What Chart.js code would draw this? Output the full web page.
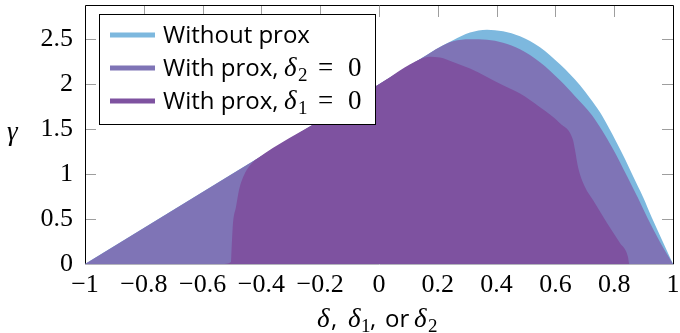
<!DOCTYPE html>
<html><head><meta charset="utf-8">
<script src="https://cdn.jsdelivr.net/npm/chart.js@4.4.0/dist/chart.umd.min.js"></script>
<style>html,body{margin:0;padding:0;background:#fff}#wrap{width:680px;height:333px;position:relative}</style>
</head><body><div id="wrap"><canvas id="c" width="680" height="333"></canvas></div>
<script>
// ---- data ----
const xTickValues = [-1, -0.8, -0.6, -0.4, -0.2, 0, 0.2, 0.4, 0.6, 0.8, 1];
const yTickValues = [0, 0.5, 1, 1.5, 2, 2.5];
const seriesNames = ['Without prox', 'With prox, δ2 = 0', 'With prox, δ1 = 0'];

const noProxDelta = [-1, -0.5, 0, 0.15, 0.2075, 0.2517, 0.3095, 0.3673, 0.4218, 0.4796, 0.5476, 0.6156, 0.6497, 0.6837, 0.7177, 0.7517, 0.7789, 0.8095, 0.8367, 0.8639, 0.898, 0.9286, 0.9626, 1];
const noProxGamma = [0, 1, 2, 2.3, 2.415, 2.49, 2.575, 2.607, 2.589, 2.533, 2.411, 2.222, 2.111, 1.989, 1.844, 1.689, 1.533, 1.344, 1.167, 0.978, 0.744, 0.511, 0.267, 0];

const prox2Delta = [-1, -0.5, 0, 0.15, 0.2075, 0.2517, 0.3095, 0.3673, 0.4218, 0.4796, 0.5476, 0.6156, 0.6667, 0.7245, 0.7585, 0.7925, 0.8197, 0.8469, 0.881, 0.915, 0.9558, 1];
const prox2Gamma = [0, 1, 2, 2.3, 2.415, 2.478, 2.5, 2.494, 2.461, 2.389, 2.244, 2.044, 1.867, 1.656, 1.489, 1.3, 1.133, 0.956, 0.733, 0.5, 0.244, 0];

const prox1Delta = [-0.534, -0.5034, -0.5, -0.4966, -0.4864, -0.4762, -0.4558, -0.4354, -0.415, -0.2, 0, 0.1395, 0.1735, 0.2075, 0.2517, 0.3095, 0.3673, 0.4218, 0.4796, 0.5476, 0.6156, 0.6599, 0.6667, 0.6769, 0.7007, 0.7279, 0.7755, 0.8197, 0.8469, 0.8503, 0.852];
const prox1Gamma = [0, 0.022, 0.267, 0.456, 0.633, 0.822, 1.011, 1.111, 1.17, 1.6, 2, 2.279, 2.306, 2.297, 2.248, 2.174, 2.081, 1.989, 1.897, 1.744, 1.567, 1.378, 1.267, 1.078, 0.856, 0.711, 0.456, 0.233, 0.078, 0.011, 0];

const colors = ['rgb(125,184,222)', 'rgb(127,116,182)', 'rgb(126,82,160)'];

const toPts = (xs, ys) => xs.map((x, i) => ({x: x, y: ys[i]}));
const fmt = v => { const r = Math.round(v * 10) / 10; if (r === 0) return '0'; const s = String(Math.abs(r)); return (r < 0 ? '\u2212' : '') + s; };

const SERIF = "'Liberation Serif', 'DejaVu Serif', serif";
const SANS = "'Open Sans', 'Liberation Sans', sans-serif";

function drawSegs(ctx, y, segs) {
  for (const s of segs) { ctx.font = s.f; ctx.fillText(s.t, s.x, y + (s.dy || 0)); }
}

const decorPlugin = {
  id: 'decor',
  beforeDatasetsDraw(chart) {
    const {ctx, chartArea: a, scales: {x, y}} = chart;
    ctx.save();
    ctx.strokeStyle = '#9e9e9e'; ctx.lineWidth = 1;
    ctx.beginPath();
    for (const v of xTickValues) {
      const px = Math.round(x.getPixelForValue(v)) + 0.5;
      ctx.moveTo(px, a.top); ctx.lineTo(px, a.top + 11);
      ctx.moveTo(px, a.bottom); ctx.lineTo(px, a.bottom - 11);
    }
    for (const v of yTickValues) {
      const py = Math.round(y.getPixelForValue(v)) + 0.5;
      ctx.moveTo(a.left, py); ctx.lineTo(a.left + 11, py);
      ctx.moveTo(a.right, py); ctx.lineTo(a.right - 11, py);
    }
    ctx.stroke();
    ctx.strokeStyle = '#000';
    ctx.beginPath();
    ctx.moveTo(a.left + 0.5, a.bottom + 0.5); ctx.lineTo(a.left + 0.5, a.top - 0.5);
    ctx.lineTo(a.right + 0.5, a.top - 0.5); ctx.lineTo(a.right + 0.5, a.bottom + 0.5);
    ctx.stroke();
    ctx.restore();
  },
  afterDatasetsDraw(chart) {
    const {ctx, chartArea: a} = chart;
    ctx.save();
    ctx.strokeStyle = '#b4b4bc'; ctx.lineWidth = 1;
    ctx.beginPath(); ctx.moveTo(a.left, a.bottom + 0.5); ctx.lineTo(a.right + 1, a.bottom + 0.5); ctx.stroke();

    // legend box
    const L = 99, T = 14, W = 276, H = 110;
    ctx.fillStyle = '#fff'; ctx.fillRect(L, T, W, H);
    ctx.strokeStyle = '#000'; ctx.lineWidth = 1; ctx.strokeRect(L + 0.5, T + 0.5, W, H);
    const rows = [T + 21, T + 54, T + 87];
    ctx.lineWidth = 5;
    rows.forEach((ry, i) => {
      ctx.strokeStyle = colors[i];
      ctx.beginPath(); ctx.moveTo(L + 11, ry); ctx.lineTo(L + 56, ry); ctx.stroke();
    });
    ctx.fillStyle = '#000'; ctx.textBaseline = 'alphabetic'; ctx.textAlign = 'left';
    const tx = L + 64;
    const MI = "italic 27px " + SERIF, MR = "27px " + SERIF, SUB = "19px " + SERIF, TS = "24px " + SANS;
    drawSegs(ctx, rows[0] + 8, [{t: 'Without prox', f: TS, x: tx}]);
    drawSegs(ctx, rows[1] + 8, [{t: 'With prox,', f: TS, x: tx}, {t: 'δ', f: MI, x: tx + 121},
      {t: '2', f: SUB, x: tx + 135, dy: 5}, {t: '=', f: MR, x: tx + 155}, {t: '0', f: MR, x: tx + 185}]);
    drawSegs(ctx, rows[2] + 8, [{t: 'With prox,', f: TS, x: tx}, {t: 'δ', f: MI, x: tx + 121},
      {t: '1', f: SUB, x: tx + 135, dy: 5}, {t: '=', f: MR, x: tx + 155}, {t: '0', f: MR, x: tx + 185}]);

    // axis titles
    const bx = 317, by = 327;
    drawSegs(ctx, by, [{t: 'δ', f: MI, x: bx}, {t: ',', f: TS, x: bx + 14},
      {t: 'δ', f: MI, x: bx + 31}, {t: '1', f: SUB, x: bx + 44, dy: 5}, {t: ',', f: TS, x: bx + 53},
      {t: 'or', f: TS, x: bx + 68}, {t: 'δ', f: MI, x: bx + 97}, {t: '2', f: SUB, x: bx + 111, dy: 5}]);
    drawSegs(ctx, 140, [{t: 'γ', f: MI, x: 7}]);
    ctx.restore();
  }
};

new Chart(document.getElementById('c'), {
  type: 'line',
  data: {
    datasets: [
      {label: seriesNames[0], data: toPts(noProxDelta, noProxGamma), backgroundColor: colors[0], order: 3},
      {label: seriesNames[1], data: toPts(prox2Delta, prox2Gamma), backgroundColor: colors[1], order: 2},
      {label: seriesNames[2], data: toPts(prox1Delta, prox1Gamma), backgroundColor: colors[2], order: 1}
    ].map(d => Object.assign(d, {fill: 'origin', borderWidth: 0, borderColor: d.backgroundColor, pointRadius: 0,
      cubicInterpolationMode: 'monotone', tension: 0.4}))
  },
  options: {
    responsive: false, animation: false, devicePixelRatio: 1,
    layout: {padding: {left: 0, right: 7, top: 6, bottom: 0}},
    plugins: {legend: {display: false}, tooltip: {enabled: false}},
    scales: {
      x: {
        type: 'linear', min: -1, max: 1,
        afterBuildTicks: s => { s.ticks = xTickValues.map(v => ({value: v})); },
        afterFit: s => { s.height = 69; s.paddingLeft = 0; s.paddingRight = 0; s.paddingTop = 0; s.paddingBottom = 0; },
        grid: {display: false, drawTicks: false}, border: {display: false},
        ticks: {autoSkip: false, maxRotation: 0, padding: 6, color: '#000',
          font: {family: SERIF, size: 26}, callback: v => fmt(v)}
      },
      y: {
        type: 'linear', min: 0, max: 2.87,
        afterBuildTicks: s => { s.ticks = yTickValues.map(v => ({value: v})); },
        afterFit: s => { s.width = 85; s.paddingTop = 0; s.paddingBottom = 0; s.paddingLeft = 0; s.paddingRight = 0; },
        grid: {display: false, drawTicks: false}, border: {display: false},
        ticks: {padding: 12, color: '#000', font: {family: SERIF, size: 26}, callback: v => fmt(v)}
      }
    }
  },
  plugins: [decorPlugin]
});
</script>
</body></html>
